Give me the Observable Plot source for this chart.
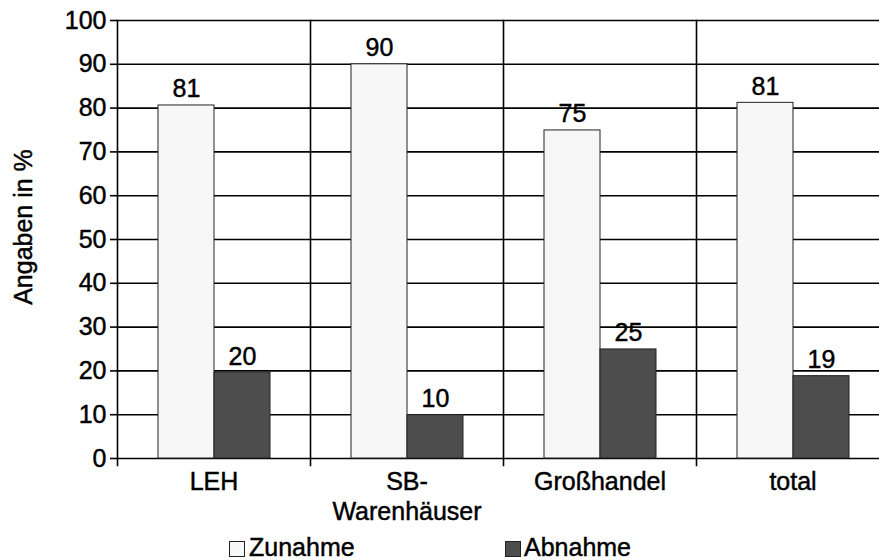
<!DOCTYPE html>
<html><head><meta charset="utf-8">
<script src="https://cdn.jsdelivr.net/npm/d3@7"></script>
<script src="https://cdn.jsdelivr.net/npm/@observablehq/plot@0.6"></script>
<style>
body{margin:0;background:#fff;overflow:hidden;font-family:"Liberation Sans",Arial,sans-serif;}
#wrap{width:879px;height:560px;overflow:hidden;position:relative;}
#chart svg{display:block;max-width:none !important;}
#chart svg text{stroke:#000;stroke-width:0.45px;}
.sw{position:absolute;width:14px;height:14px;border:1px solid #222;box-sizing:content-box;}
.lt{position:absolute;font-size:25px;line-height:24px;color:#000;white-space:nowrap;-webkit-text-stroke:0.45px #000;}
#ylabel{position:absolute;left:23px;top:227px;width:200px;margin-left:-100px;margin-top:-15px;height:30px;line-height:30px;text-align:center;font-size:25px;transform:rotate(-90deg);color:#000;white-space:nowrap;-webkit-text-stroke:0.45px #000;}
</style>
</head><body>
<div id="wrap"><div id="chart"></div>
<div id="ylabel">Angaben in %</div>
<div class="sw" style="left:229px;top:541px;background:#f7f7f7"></div>
<div class="lt" style="left:249px;top:535px">Zunahme</div>
<div class="sw" style="left:505px;top:541px;background:#4d4d4d"></div>
<div class="lt" style="left:524px;top:535px">Abnahme</div>
</div>
<script>
const categories = ["LEH", "SB-\nWarenhäuser", "Großhandel", "total"];
const series = ["Zunahme", "Abnahme"];
const zunahme = [80.6, 90, 74.9, 81.2];
const abnahme = [19.6, 9.9, 24.9, 18.8];
const yTicks = [0, 10, 20, 30, 40, 50, 60, 70, 80, 90, 100];
const colors = ["#f7f7f7", "#4d4d4d"];

const rows = [];
categories.forEach((c, i) => {
  rows.push({cat: c, series: series[0], value: zunahme[i]});
  rows.push({cat: c, series: series[1], value: abnahme[i]});
});

const plot = Plot.plot({
  width: 889,
  height: 535,
  marginLeft: 117,
  marginRight: 0,
  marginTop: 20,
  marginBottom: 77,
  style: {fontFamily: "'Liberation Sans', Arial, sans-serif", color: "#000", background: "#fff", maxWidth: "none"},
  fx: {domain: categories, padding: 0, label: null},
  x: {domain: series, paddingInner: 0, paddingOuter: 0.708},
  y: {domain: [0, 100]},
  color: {domain: series, range: colors},
  marks: [
    Plot.gridY(yTicks, {stroke: "#000", strokeOpacity: 1, strokeWidth: 1.6}),
    Plot.frame({anchor: "left", stroke: "#000", strokeWidth: 1.6, insetBottom: -7}),
    Plot.barY(rows, {fx: "cat", x: "series", y: "value", fill: "series", stroke: "#222", strokeWidth: 1}),
    Plot.text(rows, {fx: "cat", x: "series", y: "value", text: d => String(Math.round(d.value)), lineAnchor: "bottom", dy: -8, fontSize: 25, fill: "#000"}),
    Plot.axisY({ticks: yTicks, tickSize: 7, tickPadding: 4, fontSize: 25, label: null, stroke: "#000", strokeWidth: 1.6}),
    Plot.axisFx({anchor: "bottom", tickSize: 0, tickPadding: 10, fontSize: 25, lineHeight: 1.2, label: null}),
    Plot.axisX({ticks: [], label: null})
  ]
});
document.getElementById("chart").appendChild(plot);
</script>
</body></html>
